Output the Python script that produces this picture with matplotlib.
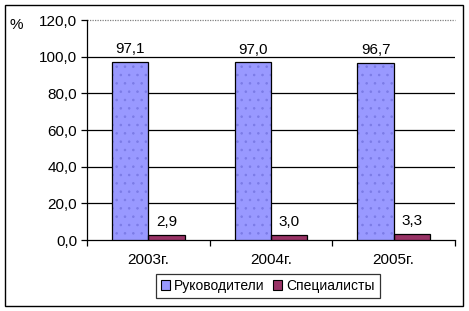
import matplotlib
matplotlib.use("Agg")
import matplotlib.pyplot as plt
import numpy as np
from matplotlib.patches import Rectangle, Patch

plt.rcParams['font.family'] = ['Liberation Sans', 'DejaVu Sans']
plt.rcParams['hatch.linewidth'] = 0.6

categories = ['2003г.', '2004г.', '2005г.']
managers = [97.1, 97.0, 96.7]
specialists = [2.9, 3.0, 3.3]
series_names = ['Руководители', 'Специалисты']
yticks = [0, 20, 40, 60, 80, 100, 120]

def fmt(v):
    return f"{v:.1f}".replace('.', ',')

W, H = 469, 311
FS = 11
fig = plt.figure(figsize=(W/100, H/100), dpi=100)
fig.patch.set_facecolor('white')
fig.add_artist(Rectangle((5/W, 5/H), (463-5)/W, (306-5)/H, transform=fig.transFigure,
                         fill=False, edgecolor='black', lw=1.0))

ax = fig.add_axes([87/W, 1-240/H, (455-87)/W, 220/H])
x = np.arange(len(categories))
bw = 0.295
c1, c2 = '#9999FF', '#993366'
for vals, off, col, hc in [(managers, -bw/2, c1, '#7b7be6'), (specialists, bw/2, c2, '#6a2a4a')]:
    ax.bar(x+off, vals, bw, color=col, hatch='..', edgecolor=hc, linewidth=0, zorder=3)
    ax.bar(x+off, vals, bw, fill=False, edgecolor='black', linewidth=0.9, zorder=4)

for i in range(len(categories)):
    ax.text(x[i]-bw/2, managers[i]+3, fmt(managers[i]), ha='center', va='bottom', fontsize=FS)
    ax.text(x[i]+bw/2, specialists[i]+3, fmt(specialists[i]), ha='center', va='bottom', fontsize=FS)

ax.set_xlim(-0.5, len(categories)-0.5)
ax.set_ylim(0, 120)
ax.set_yticks(yticks)
ax.set_yticklabels([fmt(v) for v in yticks], fontsize=FS)
ax.set_xticks(x)
ax.set_xticklabels(categories, fontsize=FS)
ax.set_xticks(np.arange(len(categories)+1)-0.5, minor=True)
ax.tick_params(axis='x', which='major', length=0, pad=9)
ax.tick_params(axis='x', which='minor', length=4, direction='out', width=0.9)
ax.tick_params(axis='y', length=4, direction='out', width=0.9, pad=3)
for v in yticks[1:-1]:
    ax.axhline(v, color='black', linewidth=0.9, zorder=0)
ax.axhline(yticks[-1], color='#808080', linewidth=0.9, linestyle=(0, (1, 1)), zorder=0, clip_on=False)
for s in ['top', 'right']:
    ax.spines[s].set_visible(False)
ax.spines['left'].set_linewidth(0.9)
ax.spines['bottom'].set_linewidth(0.9)
ax.set_axisbelow(True)

fig.text(9/W, 1-25/H, '%', fontsize=FS, va='center', ha='left')

handles = [Patch(facecolor=c1, edgecolor='black', lw=0.8), Patch(facecolor=c2, edgecolor='black', lw=0.8)]
leg = fig.legend(handles, series_names, loc='center', bbox_to_anchor=(268/W, 1-286/H), ncol=2,
                 fontsize=10, frameon=True, fancybox=False, edgecolor='black', handlelength=0.65,
                 handleheight=0.65, handletextpad=0.3, columnspacing=0.6, borderpad=0.35, borderaxespad=0)
leg.get_frame().set_linewidth(0.9)

fig.savefig('out.png', dpi=100)
